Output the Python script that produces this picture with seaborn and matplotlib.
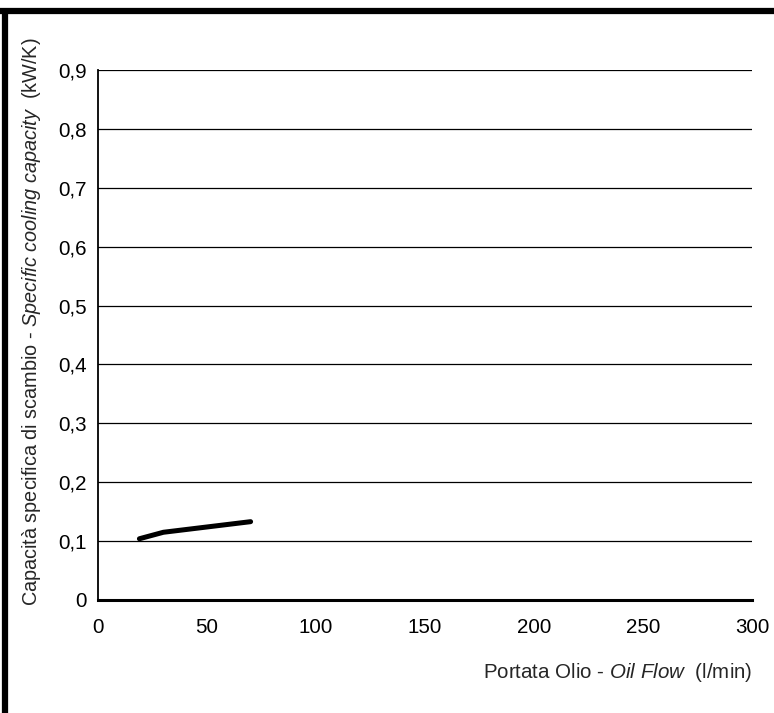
import numpy as np
import pandas as pd
import matplotlib
matplotlib.use("Agg")
import matplotlib.pyplot as plt
import seaborn as sns
from matplotlib.lines import Line2D

# data
oil_flow = [19, 30, 50, 70]
capacity = [0.104, 0.115, 0.124, 0.133]

x_ticks = [0, 50, 100, 150, 200, 250, 300]
y_ticks = [0, 0.1, 0.2, 0.3, 0.4, 0.5, 0.6, 0.7, 0.8, 0.9]
y_tick_labels = ["0", "0,1", "0,2", "0,3", "0,4", "0,5", "0,6", "0,7", "0,8", "0,9"]

sns.set_style("white")
plt.rcParams["font.family"] = ["Liberation Sans", "DejaVu Sans"]
plt.rcParams["mathtext.fontset"] = "custom"
plt.rcParams["mathtext.rm"] = "Liberation Sans"
plt.rcParams["mathtext.it"] = "Liberation Sans:italic"

df = pd.DataFrame({"flow": oil_flow, "cap": capacity})

fig = plt.figure(figsize=(7.74, 7.13), dpi=100)
ax = fig.add_axes([0.1266, 0.1585, 0.845, 0.7433])

sns.lineplot(data=df, x="flow", y="cap", ax=ax, color="black", linewidth=3.6,
             solid_capstyle="round")

fs = 14.8
ax.set_xlim(0, 300)
ax.set_ylim(0, 0.9)
ax.set_xticks(x_ticks)
ax.set_yticks(y_ticks)
ax.set_yticklabels(y_tick_labels)
ax.tick_params(axis="both", direction="out", length=5, width=1, color="black",
               labelsize=fs, labelcolor="black", pad=3)
ax.tick_params(axis="x", pad=8)

for v in y_ticks[1:]:
    ax.axhline(v, color="black", linewidth=0.9, zorder=0)

for s in ["top", "right"]:
    ax.spines[s].set_visible(False)
ax.spines["left"].set_color("black")
ax.spines["left"].set_linewidth(1.3)
ax.spines["bottom"].set_color("black")
ax.spines["bottom"].set_linewidth(2.2)

ax.set_xlabel(r"Portata Olio - $\it{Oil\ Flow}$  (l/min)", fontsize=fs, ha="right", va="center")
ax.xaxis.set_label_coords(1.0, -0.136)
ax.set_ylabel(r"Capacità specifica di scambio - $\it{Specific\ cooling\ capacity}$  (kW/K)",
              fontsize=14.3, va="center")
ax.yaxis.set_label_coords(-0.101, 0.526)

# frame lines at top and left of the picture
fig.add_artist(Line2D([0, 1], [0.984, 0.984], transform=fig.transFigure,
                      color="black", linewidth=4.5, solid_capstyle="butt"))
fig.add_artist(Line2D([0.007, 0.007], [0, 0.987], transform=fig.transFigure,
                      color="black", linewidth=4.5, solid_capstyle="butt"))

fig.savefig("out.png", dpi=100)
